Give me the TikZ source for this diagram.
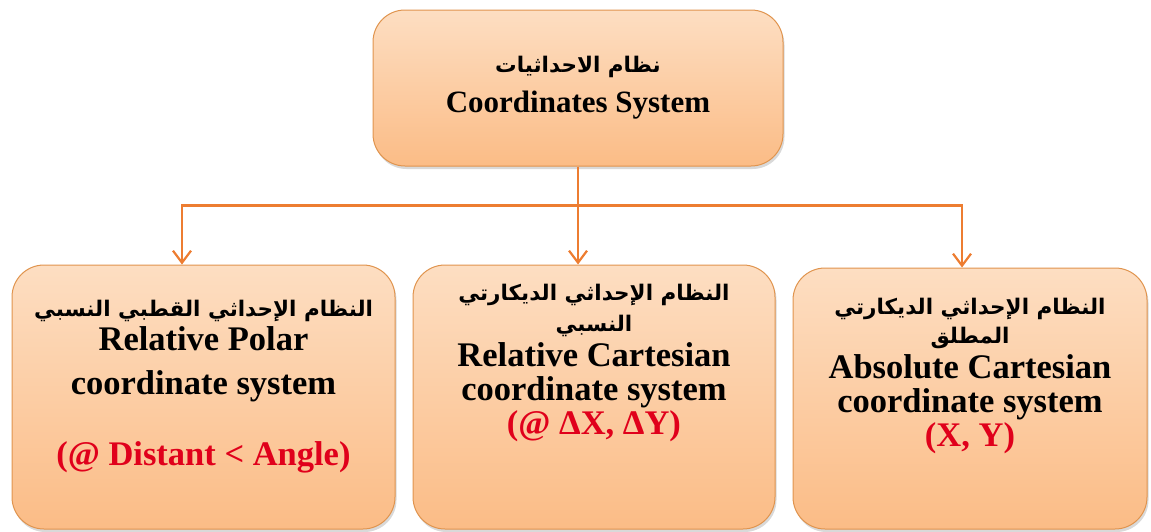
\documentclass[tikz,border=0pt]{standalone}
\usepackage{fontspec}
\setmainfont{Liberation Serif}
\newfontfamily\arabicfont[Script=Arabic]{DejaVu Sans}
\TeXXeTstate=1
\usepackage{xcolor}
\usepackage{tikz}
\usetikzlibrary{arrows.meta,positioning,shadows}
\definecolor{boxTop}{HTML}{FDDEC2}
\definecolor{boxBot}{HTML}{FBBC86}
\definecolor{boxLine}{HTML}{E0944E}
\definecolor{linkOrange}{HTML}{ED7D31}
\definecolor{coordRed}{HTML}{E0001B}
\newcommand{\artext}[1]{{\arabicfont\fontsize{21.5}{24}\selectfont\beginR #1\endR}}

\begin{document}
\begin{tikzpicture}[x=1pt,y=-1pt,
  card/.style={draw=boxLine,line width=1pt,rounded corners=32pt,top color=boxTop,bottom color=boxBot,
    drop shadow={opacity=0.3,shadow xshift=1.5pt,shadow yshift=-3pt},inner sep=0pt},
  txt/.style={align=center,font=\bfseries\fontsize{34.5}{34}\selectfont,inner sep=0pt},
  link/.style={linkOrange,line width=2.2pt},
  tip/.style={link,-{Straight Barb[length=12pt,width=18pt]}}]
\useasboundingbox (0,0) rectangle (1151,531);
% --- root ---
\node[card,txt,font=\bfseries\fontsize{31}{36}\selectfont,minimum width=410pt,minimum height=156pt] (csys) at (578,88)
  {\artext{نظام الاحداثيات}\\[4pt] Coordinates System};
% --- three systems ---
\node[card,minimum width=383pt,minimum height=264pt] (polar) at (203.5,397) {};
\node[card,minimum width=362pt,minimum height=264pt] (relcart) at (594,397) {};
\node[card,minimum width=354pt,minimum height=261pt] (abscart) at (970,398.5) {};
\node[txt,below=35pt of polar.north] (polartxt)
  {\artext{النظام الإحداثي القطبي النسبي}\\[0pt] Relative Polar\\[10pt] coordinate system\\[37pt]
   \textcolor{coordRed}{(@ Distant < Angle)}};
\node[txt,below=19pt of relcart.north] (relcarttxt)
  {\artext{النظام الإحداثي الديكارتي}\\[-3pt] \artext{النسبي}\\[1pt] Relative Cartesian\\ coordinate system\\
   \textcolor{coordRed}{(@ ΔX, ΔY)}};
\node[txt,below=30pt of abscart.north] (abscarttxt)
  {\artext{النظام الإحداثي الديكارتي}\\[-5pt] \artext{المطلق}\\[1pt] Absolute Cartesian\\ coordinate system\\
   \textcolor{coordRed}{(X, Y)}};
% --- links ---
\coordinate (split) at ([yshift=-39pt]csys.south);
\draw[link] (csys.south) -- (split);
\draw[tip] (split) -| ([xshift=-21.5pt]polar.north);
\draw[tip] (split) -- (split |- relcart.north);
\draw[tip] (split) -| ([xshift=-8pt]abscart.north);
\end{tikzpicture}
\end{document}
